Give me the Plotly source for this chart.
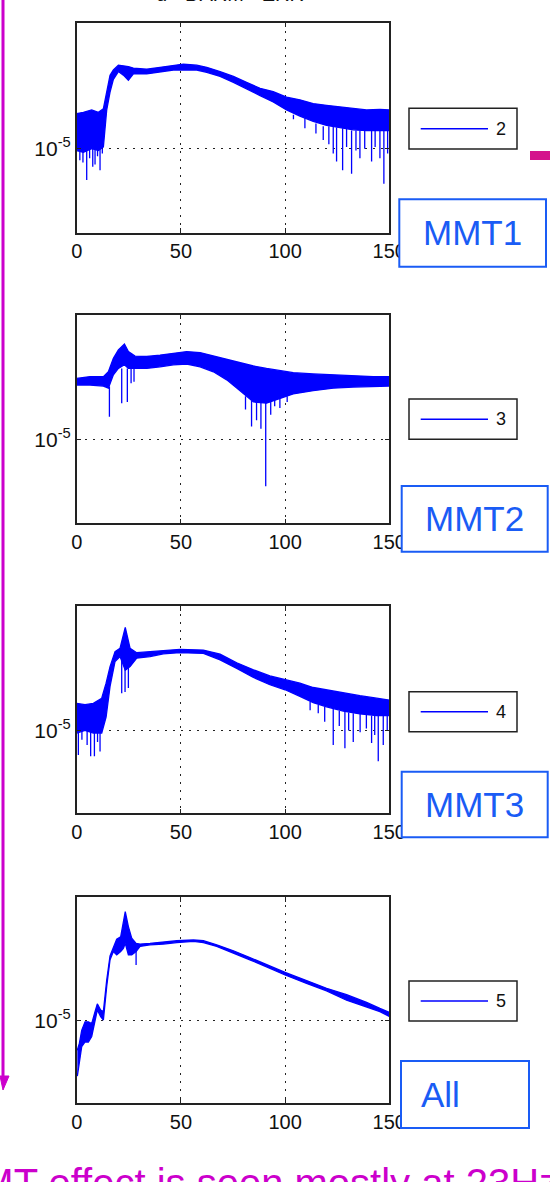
import plotly.graph_objects as go

W, H = 550, 1182

# ---------------- data (amplitude, units of 1e-5) ----------------
freq1 = [0, 3.2, 7.2, 10.4, 12.8, 14.4, 16.0, 17.6, 20.0, 22.4, 24.8, 27.2, 33.6, 40.0, 46.4, 51.2,
         57.6, 62.4, 68.8, 75.2, 81.5, 88.0, 94.3, 100.7, 107.1, 113.5, 119.9, 126.3, 132.7, 139.1, 145.5, 150]
upper1 = [1.47, 1.49, 1.53, 1.49, 1.55, 1.90, 2.24, 2.37, 2.50, 2.48, 2.46, 2.42, 2.39, 2.44, 2.49, 2.53,
          2.50, 2.44, 2.33, 2.21, 2.07, 1.94, 1.87, 1.76, 1.71, 1.64, 1.61, 1.58, 1.55, 1.53, 1.54, 1.53]
lower1 = [0.98, 0.96, 1.00, 0.98, 1.02, 1.53, 1.86, 2.14, 2.33, 2.24, 2.12, 2.27, 2.27, 2.31, 2.37, 2.37,
          2.37, 2.31, 2.21, 2.07, 1.92, 1.79, 1.67, 1.53, 1.43, 1.35, 1.29, 1.26, 1.23, 1.22, 1.22, 1.22]
spike_f1 = [1.5, 3.0, 4.8, 6.2, 7.7, 8.8, 10.0, 11.2, 12.3, 104.0, 109.5, 114.8, 118.3, 121.0, 123.1, 124.7,
            127.6, 129.5, 131.9, 134.0, 135.9, 138.2, 141.5, 143.2, 145.5, 147.4, 149.2]
spike_top1 = [1.0, 1.0, 1.0, 1.0, 1.0, 1.0, 1.0, 1.0, 1.0, 1.45, 1.40, 1.32, 1.28, 1.28, 1.27, 1.26,
              1.25, 1.25, 1.22, 1.22, 1.22, 1.22, 1.22, 1.22, 1.22, 1.22, 1.22]
spike_min1 = [0.88, 0.86, 0.71, 0.90, 0.82, 0.84, 0.92, 0.79, 0.95, 1.38, 1.25, 1.18, 1.10, 1.05, 0.95, 0.87,
              0.79, 1.02, 0.76, 0.98, 0.90, 1.00, 0.87, 1.02, 0.90, 0.68, 0.95]

freq2 = [0, 6.4, 12.8, 15.2, 17.6, 20.0, 22.9, 24.8, 28.0, 33.6, 40.0, 46.4, 52.8, 59.2, 65.6, 72.0,
         78.4, 84.8, 91.1, 97.5, 103.9, 113.5, 123.1, 132.7, 142.3, 150]
upper2 = [1.97, 2.01, 2.01, 2.12, 2.46, 2.70, 2.88, 2.65, 2.52, 2.51, 2.55, 2.60, 2.65, 2.62, 2.52, 2.43,
          2.34, 2.26, 2.20, 2.15, 2.10, 2.07, 2.05, 2.02, 2.01, 2.01]
lower2 = [1.83, 1.83, 1.81, 1.77, 2.05, 2.20, 2.29, 2.20, 2.20, 2.20, 2.24, 2.29, 2.31, 2.24, 2.12, 1.94,
          1.72, 1.52, 1.50, 1.58, 1.66, 1.72, 1.77, 1.79, 1.80, 1.81]
spike_f2 = [15.7, 21.6, 24.3, 26.1, 27.5, 81.0, 83.9, 86.3, 88.4, 90.7, 93.1, 95.0, 97.5, 101.0]
spike_top2 = [1.80, 2.20, 2.20, 2.20, 2.20, 1.62, 1.55, 1.52, 1.52, 1.51, 1.52, 1.55, 1.58, 1.62]
spike_min2 = [1.29, 1.50, 1.52, 1.87, 1.90, 1.40, 1.16, 1.24, 1.13, 0.60, 1.32, 1.45, 1.42, 1.52]

freq3 = [0, 4, 8, 12, 14.1, 16, 18.4, 20.8, 23.3, 25.6, 28.8, 35.2, 41.6, 49.6, 60.8, 68.8, 76.8,
         84.8, 92.7, 100, 107.1, 113.5, 119.9, 127.9, 135.9, 143.9, 150]
upper3 = [1.35, 1.33, 1.35, 1.43, 1.69, 2.03, 2.40, 2.49, 3.14, 2.49, 2.37, 2.40, 2.44, 2.46, 2.44, 2.33,
          2.12, 1.96, 1.83, 1.76, 1.69, 1.61, 1.57, 1.51, 1.47, 1.43, 1.40]
lower3 = [0.97, 1.00, 0.97, 0.97, 1.16, 1.63, 2.15, 2.27, 1.95, 2.03, 2.23, 2.27, 2.34, 2.37, 2.35, 2.19,
          1.99, 1.80, 1.66, 1.57, 1.46, 1.36, 1.30, 1.24, 1.20, 1.18, 1.18]
spike_f3 = [0.8, 2.5, 5.0, 6.7, 8.5, 10.0, 11.2, 21.6, 23.2, 24.8, 112.0, 115.9, 119.0, 123.1, 126.0,
            128.7, 130.5, 132.7, 136.0, 139.0, 141.5, 143.0, 144.7, 147.1, 149.0]
spike_top3 = [1.0, 1.0, 1.0, 1.0, 1.0, 1.0, 1.0, 2.2, 2.0, 2.0, 1.38, 1.33, 1.30, 1.27, 1.24,
              1.23, 1.22, 1.21, 1.20, 1.19, 1.18, 1.18, 1.18, 1.18, 1.18]
spike_min3 = [0.76, 0.90, 0.85, 0.75, 0.75, 0.88, 0.79, 1.51, 1.53, 1.60, 1.25, 1.21, 1.10, 0.85, 1.05,
              0.82, 1.00, 0.88, 0.98, 1.02, 0.87, 0.95, 0.71, 0.85, 1.00]

freq4 = [0.3, 1.3, 2.4, 4.0, 5.6, 7.2, 8.8, 9.9, 11.5, 12.8, 14.4, 16.0, 17.6, 19.2, 21.1, 22.4, 23.3,
         24.8, 26.4, 28.5, 30.4, 35.2, 41.6, 48.0, 56.0, 60.8, 67.2, 75.2, 83.1, 91.1, 100.0, 110.3,
         119.9, 129.5, 139.1, 145.5, 150]
upper4 = [0.72, 0.78, 0.90, 0.99, 0.99, 0.97, 1.11, 1.21, 1.13, 1.11, 1.58, 2.07, 2.27, 2.49, 2.56, 3.03,
          3.39, 2.87, 2.52, 2.38, 2.36, 2.38, 2.42, 2.45, 2.47, 2.45, 2.34, 2.19, 2.03, 1.87, 1.72, 1.57,
          1.44, 1.34, 1.23, 1.15, 1.10]
lower4 = [0.54, 0.65, 0.75, 0.79, 0.79, 0.84, 1.01, 1.13, 1.05, 1.01, 1.47, 1.98, 2.17, 2.09, 2.17, 2.25,
          2.38, 2.09, 2.09, 2.17, 2.30, 2.34, 2.36, 2.40, 2.43, 2.40, 2.30, 2.14, 1.98, 1.83, 1.67, 1.52,
          1.40, 1.26, 1.17, 1.11, 1.05]
spike_f4 = [28.5]
spike_top4 = [2.20]
spike_min4 = [1.87]

legend_labels = ["2", "3", "4", "5"]
box_labels = ["MMT1", "MMT2", "MMT3", "All"]
title_text = "d - DARM - ERR"
bottom_text = "MMT effect is seen mostly at 23Hz"
x_ticks = [0, 50, 100, 150]
y_tick = 1e-5
y_tick_text = "10<sup>-5</sup>"
SCALE = 1e-5

series = [
    (freq1, upper1, lower1, spike_f1, spike_top1, spike_min1),
    (freq2, upper2, lower2, spike_f2, spike_top2, spike_min2),
    (freq3, upper3, lower3, spike_f3, spike_top3, spike_min3),
    (freq4, upper4, lower4, spike_f4, spike_top4, spike_min4),
]

# ---------------- layout geometry (pixels) ----------------
panel_tb = [(22.7, 232.7), (314.7, 523.3), (606.0, 813.3), (897.3, 1103.3)]
panel_lr = (76.7, 389.3)
legend_boxes = [(108.3, 149.0), (399.0, 439.3), (691.7, 731.7), (981.0, 1021.0)]
label_boxes = [(399.3, 199.3, 546.0, 266.7), (401.7, 486.0, 547.7, 551.7),
               (401.7, 771.7, 547.7, 837.3), (401.0, 1061.0, 529.0, 1128.0)]

def fx(p):
    return p / W

def fy(p):
    return 1 - p / H

BLUE = "#0000ff"
BOXBLUE = "#1a5cf5"
MAGENTA = "#cc00cc"
FONT = "Liberation Sans, Arial, sans-serif"

fig = go.Figure()
layout = dict(
    width=W, height=H,
    margin=dict(l=0, r=0, t=0, b=0, pad=0, autoexpand=False),
    paper_bgcolor="white", plot_bgcolor="rgba(0,0,0,0)", showlegend=False,
    font=dict(family=FONT, color="#111111"),
)

shapes = []
annotations = []

for i, (f, up, lo, sf, st, sm) in enumerate(series):
    n = i + 1
    xa = "x" if n == 1 else f"x{n}"
    ya = "y" if n == 1 else f"y{n}"
    fig.add_trace(go.Scatter(x=f, y=[v * SCALE for v in lo], mode="lines",
                             line=dict(color=BLUE, width=1.3), xaxis=xa, yaxis=ya,
                             hoverinfo="skip"))
    fig.add_trace(go.Scatter(x=f, y=[v * SCALE for v in up], mode="lines",
                             line=dict(color=BLUE, width=1.3), fill="tonexty",
                             fillcolor=BLUE, xaxis=xa, yaxis=ya, name=legend_labels[i]))
    sx, sy = [], []
    for a, b, c in zip(sf, st, sm):
        sx += [a, a, None]
        sy += [b * SCALE, c * SCALE, None]
    fig.add_trace(go.Scatter(x=sx, y=sy, mode="lines", line=dict(color=BLUE, width=1.3),
                             xaxis=xa, yaxis=ya, hoverinfo="skip"))

    top, bot = panel_tb[i]
    axis_common = dict(
        showline=True, linecolor="#222222", linewidth=1.5, mirror="ticks",
        ticks="inside", ticklen=5, tickwidth=1.2, tickcolor="#222222",
        showgrid=True, gridcolor="#222222", gridwidth=1.3, griddash="2px,6px",
        zeroline=False, tickfont=dict(size=20, family=FONT, color="#111111"),
        fixedrange=True, automargin=False,
    )
    layout["xaxis" if n == 1 else f"xaxis{n}"] = dict(
        axis_common, domain=[fx(panel_lr[0]), fx(panel_lr[1])], range=[0, 150],
        tickvals=x_ticks, ticktext=[str(t) for t in x_ticks], anchor=ya,
        ticklabelstandoff=0,
    )
    layout["yaxis" if n == 1 else f"yaxis{n}"] = dict(
        axis_common, domain=[fy(bot), fy(top)], type="log", range=[-5.4, -4.4],
        tickvals=[y_tick], ticktext=[y_tick_text], anchor=xa,
        tickfont=dict(size=21, family=FONT, color="#111111"),
    )

    # legend box
    lt, lb = legend_boxes[i]
    shapes.append(dict(type="rect", xref="paper", yref="paper", x0=fx(409), x1=fx(517),
                       y0=fy(lb), y1=fy(lt), line=dict(color="#222222", width=1.5),
                       fillcolor="white", layer="above"))
    lc = (lt + lb) / 2
    shapes.append(dict(type="line", xref="paper", yref="paper", x0=fx(420.7), x1=fx(488),
                       y0=fy(lc), y1=fy(lc), line=dict(color=BLUE, width=1.5), layer="above"))
    annotations.append(dict(text=legend_labels[i], xref="paper", yref="paper", x=fx(501),
                            y=fy(lc), xanchor="center", yanchor="middle", showarrow=False,
                            font=dict(size=18, family=FONT, color="#111111")))

    # blue label box
    bx0, by0, bx1, by1 = label_boxes[i]
    shapes.append(dict(type="rect", xref="paper", yref="paper", x0=fx(bx0), x1=fx(bx1),
                       y0=fy(by1), y1=fy(by0), line=dict(color=BOXBLUE, width=2),
                       fillcolor="white", layer="above"))
    if i < 3:
        annotations.append(dict(text=box_labels[i], xref="paper", yref="paper",
                                x=fx((bx0 + bx1) / 2), y=fy((by0 + by1) / 2),
                                xanchor="center", yanchor="middle", showarrow=False,
                                font=dict(size=35, family=FONT, color=BOXBLUE)))
    else:
        annotations.append(dict(text=box_labels[i], xref="paper", yref="paper",
                                x=fx(419), y=fy((by0 + by1) / 2),
                                xanchor="left", yanchor="middle", showarrow=False,
                                font=dict(size=35, family=FONT, color=BOXBLUE)))

# full-page overlay axes (pixel coordinates) for texts cut by the page edge
layout["xaxis5"] = dict(domain=[0, 1], range=[0, W], visible=False, fixedrange=True,
                        anchor="y5", automargin=False)
layout["yaxis5"] = dict(domain=[0, 1], range=[H, 0], visible=False, fixedrange=True,
                        anchor="x5", automargin=False)
fig.add_trace(go.Scatter(x=[230], y=[-4], mode="text", text=[title_text],
                         textposition="middle center", cliponaxis=True,
                         textfont=dict(size=20, family=FONT, color="#111111"),
                         xaxis="x5", yaxis="y5", hoverinfo="skip"))
fig.add_trace(go.Scatter(x=[-53], y=[1187], mode="text", text=[bottom_text],
                         textposition="middle right", cliponaxis=True,
                         textfont=dict(size=40, family=FONT, color=MAGENTA),
                         xaxis="x5", yaxis="y5", hoverinfo="skip"))

# magenta marker line on the left with arrowhead
shapes.append(dict(type="line", xref="paper", yref="paper", x0=fx(3), x1=fx(3),
                   y0=fy(0), y1=fy(1080), line=dict(color=MAGENTA, width=3), layer="above"))
shapes.append(dict(type="path", xref="paper", yref="paper",
                   path=f"M {fx(0)},{fy(1076)} L {fx(9)},{fy(1076)} L {fx(3)},{fy(1090)} Z",
                   fillcolor=MAGENTA, line=dict(color=MAGENTA, width=1), layer="above"))
# short pink mark on the right
shapes.append(dict(type="rect", xref="paper", yref="paper", x0=fx(530), x1=fx(550),
                   y0=fy(160), y1=fy(151), fillcolor="#d4148c", line=dict(width=0),
                   layer="above"))

layout["shapes"] = shapes
layout["annotations"] = annotations
fig.update_layout(**layout)

clip_js = (
    "document.documentElement.style.overflow='hidden';"
    "document.body.style.margin='0px';document.body.style.overflow='hidden';"
    "var gd=document.getElementsByClassName('plotly-graph-div')[0];"
    "gd.style.overflow='hidden';gd.style.width='550px';gd.style.height='1182px';"
)
fig.write_html(
    "out.html",
    config={"responsive": False, "displayModeBar": False},
    post_script=clip_js,
)
